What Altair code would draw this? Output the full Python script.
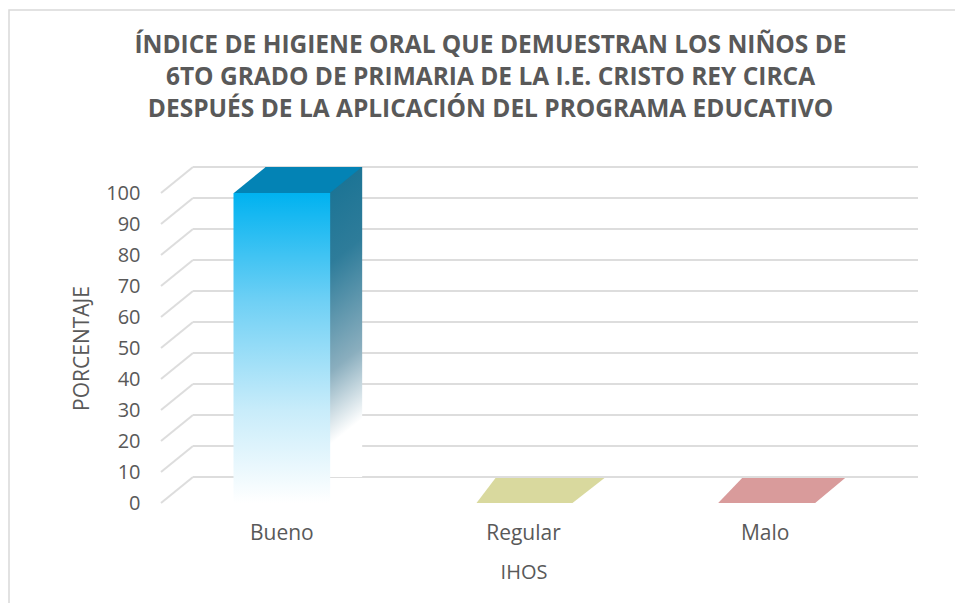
import altair as alt
import pandas as pd

# ---------------- data ----------------
title_lines = [
    "ÍNDICE DE HIGIENE ORAL QUE DEMUESTRAN LOS NIÑOS DE",
    "6TO GRADO DE PRIMARIA DE LA I.E. CRISTO REY CIRCA",
    "DESPUÉS DE LA APLICACIÓN DEL PROGRAMA EDUCATIVO",
]
categories = ["Bueno", "Regular", "Malo"]
values = [100, 0, 0]
face_colors = ["#0383B5", "#D9D99E", "#D99B9B"]
y_ticks = [0, 10, 20, 30, 40, 50, 60, 70, 80, 90, 100]
x_title = "IHOS"
y_title = "PORCENTAJE"

# ---------------- style ----------------
W, H = 725, 310          # front plane of the plot
DX, DY = 32, -26          # 3-D depth offset (pixels)
TEXT = "#595959"
GRID = "#DDDDDD"
FONT = "Open Sans"

# top / floor faces drawn as parallelogram symbols (size=4 -> 1 unit = 1 px)
face_paths = [
    "M -48 0 L 48 0 L 80 -26 L -16 -26 Z",
    "M -47 0 L 49 0 L 81 -25 L -28 -25 Z",
    "M -47 0 L 50 0 L 80 -25 L -23 -25 Z",
]

bars = pd.DataFrame({"cat": categories, "val": values})
grid = pd.DataFrame({"val": y_ticks})
one = pd.DataFrame({"k": [0]})

x_enc = alt.X(
    "cat:N",
    sort=categories,
    scale=alt.Scale(domain=categories, paddingInner=0.6, paddingOuter=0.3),
    axis=alt.Axis(
        title=x_title, labelAngle=0, domain=False, ticks=False,
        labelPadding=19, labelFontSize=21, labelColor=TEXT, labelFont=FONT,
        titleFontSize=20, titleColor=TEXT, titleFont=FONT,
        titleFontWeight="normal", titlePadding=19,
    ),
)


def y_enc():
    return alt.Y(
        "val:Q",
        scale=alt.Scale(domain=[0, 100], nice=False, zero=True),
        axis=alt.Axis(
            values=y_ticks, title=y_title, grid=False, domain=False, ticks=False,
            labelPadding=21, labelFontSize=20, labelColor=TEXT, labelFont=FONT,
            titleFontSize=21, titleColor=TEXT, titleFont=FONT,
            titleFontWeight="normal", titleAngle=270, titleAlign="center",
            titleBaseline="middle", titleX=-79, titleY=H / 2,
        ),
    )


border = alt.Chart(one).mark_rect(
    fill="transparent", stroke="#D9D9D9", strokeWidth=1.5
).encode(
    x=alt.value(-152), x2=alt.value(W + 300),
    y=alt.value(-183), y2=alt.value(H + 300),
)

back_grid = alt.Chart(grid).mark_rule(
    color=GRID, strokeWidth=2, yOffset=DY, y2Offset=DY
).encode(
    x=alt.value(DX), x2=alt.value(W + DX),
    y=y_enc(), y2=alt.Y2("val:Q"),
)

floor_grid = alt.Chart(grid).mark_rule(
    color=GRID, strokeWidth=2, y2Offset=DY
).encode(
    x=alt.value(0), x2=alt.value(DX),
    y=y_enc(), y2=alt.Y2("val:Q"),
)

side_grad = alt.LinearGradient(
    gradient="linear", x1=0, y1=0, x2=0.25, y2=1,
    stops=[
        alt.GradientStop(color="#0A6C90", offset=0),
        alt.GradientStop(color="#2E7C9A", offset=0.45),
        alt.GradientStop(color="#8AAEBE", offset=0.78),
        alt.GradientStop(color="#FFFFFF", offset=1),
    ],
)
front_grad = alt.LinearGradient(
    gradient="linear", x1=0, y1=0, x2=0, y2=1,
    stops=[
        alt.GradientStop(color="#00B2F0", offset=0),
        alt.GradientStop(color="#6FD0F5", offset=0.35),
        alt.GradientStop(color="#C8ECFA", offset=0.7),
        alt.GradientStop(color="#FFFFFF", offset=1),
    ],
)

side = alt.Chart(bars).transform_filter("datum.val > 0").mark_bar(
    color=side_grad, xOffset=DX, x2Offset=DX, yOffset=DY, y2Offset=DY
).encode(x=x_enc, y=y_enc())

front = alt.Chart(bars).transform_filter("datum.val > 0").mark_bar(
    color=front_grad
).encode(x=x_enc, y=y_enc())

faces = alt.Chart(bars).mark_point(
    filled=True, size=4, opacity=1, strokeWidth=0
).encode(
    x=x_enc, y=y_enc(),
    color=alt.Color("cat:N", scale=alt.Scale(domain=categories, range=face_colors), legend=None),
    shape=alt.Shape("cat:N", scale=alt.Scale(domain=categories, range=face_paths), legend=None),
)

chart = alt.layer(
    border, back_grid, floor_grid, side, front, faces
).properties(
    width=W, height=H,
    background="white",
    autosize=alt.AutoSizeParams(type="none"),
    padding={"left": 153, "top": 185, "right": 69, "bottom": 100},
    title=alt.TitleParams(
        text=title_lines, anchor="middle", frame="group", fontSize=24.5,
        font=FONT, fontWeight="bold", color=TEXT, lineHeight=32,
        offset=-113, dx=-33,
    ),
).configure_view(stroke="transparent", strokeWidth=0)

chart.save("out.html", embed_options={"renderer": "svg", "actions": False})
